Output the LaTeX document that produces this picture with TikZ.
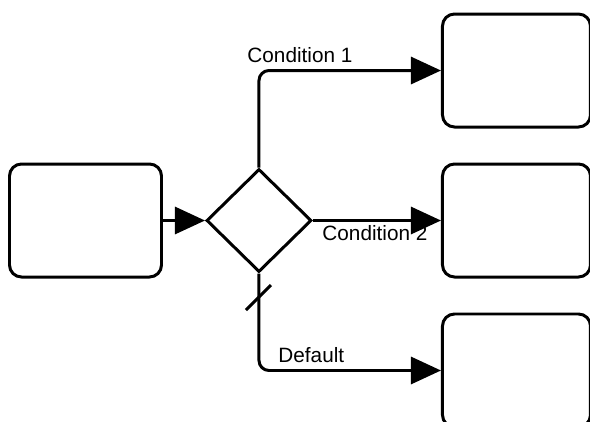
\documentclass[tikz,border=0pt]{standalone}
\usepackage{fontspec}
\setmainfont{Liberation Sans}
\usetikzlibrary{shapes.geometric, arrows.meta, positioning, calc}

\begin{document}
\begin{tikzpicture}[
  node distance=0.9cm,
  task/.style={rectangle, rounded corners=0.24cm, draw, line width=1.7pt,
               minimum height=2.26cm, minimum width=3.04cm},
  gateway/.style={diamond, draw, line width=1.7pt, inner sep=0pt,
                  minimum width=2.1cm, minimum height=2.06cm},
  flow/.style={-{Triangle[length=0.6cm, width=0.54cm]}, line width=1.7pt,
               rounded corners=0.2cm},
  lbl/.style={font=\fontsize{11.8}{14}\selectfont, inner sep=0pt},
]
  \useasboundingbox (0,0) rectangle (11.8,-8.42);

  % Incoming task
  \node[task] (start) at (1.71,-4.41) {};

  % Exclusive gateway
  \node[gateway, right=0.84cm of start] (gw) {};

  % Outgoing tasks
  \node[task, minimum width=2.96cm, right=2.56cm of gw] (cond2) {};
  \node[task, minimum width=2.96cm, above=0.68cm of cond2] (cond1) {};
  \node[task, minimum width=2.96cm, below=0.68cm of cond2] (dflt) {};

  \draw[flow] (start) -- (gw);
  \draw[flow] (gw.north) |- node[lbl, pos=0.5, anchor=south west, xshift=-0.26cm, yshift=0.12cm]{Condition 1} (cond1);
  \draw[flow] (gw) -- node[lbl, pos=0, anchor=north west, xshift=0.16cm, yshift=-0.06cm]{Condition 2} (cond2);
  \draw[flow] (gw.south) |- node[lbl, pos=0.5, anchor=south west, xshift=0.36cm, yshift=0.13cm]{Default} (dflt);

  % default marker
  \draw[line width=1.7pt] ($(gw.south)+(-0.26,-0.73)$) -- ($(gw.south)+(0.24,-0.23)$);
\end{tikzpicture}
\end{document}
